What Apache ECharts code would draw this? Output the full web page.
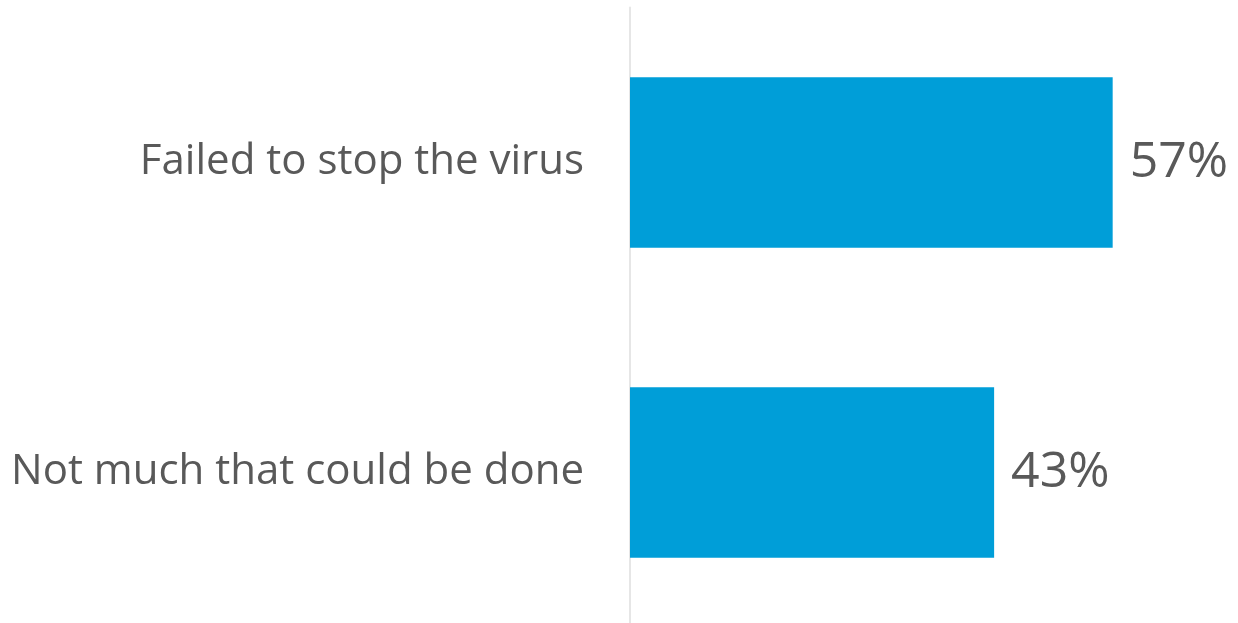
<!DOCTYPE html>
<html>
<head>
<meta charset="utf-8">
<script src="https://cdn.jsdelivr.net/npm/echarts@6/dist/echarts.min.js"></script>
<style>
html, body { margin: 0; padding: 0; background: #fff; overflow: hidden; }
#main { width: 1238px; height: 628px; }
</style>
</head>
<body>
<div id="main"></div>
<script>
var categories = ['Failed to stop the virus', 'Not much that could be done'];
var values = [57, 43];

var chart = echarts.init(document.getElementById('main'));
var option = {
	animation: false,
	grid: {
		left: 630,
		top: 7.5,
		height: 620,
		width: 608
	},
	xAxis: {
		type: 'value',
		min: 0,
		max: 71.8,
		show: false
	},
	yAxis: {
		type: 'category',
		data: categories,
		inverse: true,
		axisLine: { show: true, lineStyle: { color: '#e6e6e6', width: 2 } },
		axisTick: { show: false },
		axisLabel: {
			margin: 46,
			color: '#595959',
			fontFamily: 'Open Sans',
			fontSize: 42
		}
	},
	series: [{
		type: 'bar',
		data: values,
		barCategoryGap: '45%',
		itemStyle: { color: '#009ed8' },
		label: {
			show: true,
			position: 'right',
			distance: 17,
			formatter: '{c}%',
			color: '#595959',
			fontFamily: 'Open Sans',
			fontSize: 50
		}
	}]
};
chart.setOption(option);
</script>
</body>
</html>
